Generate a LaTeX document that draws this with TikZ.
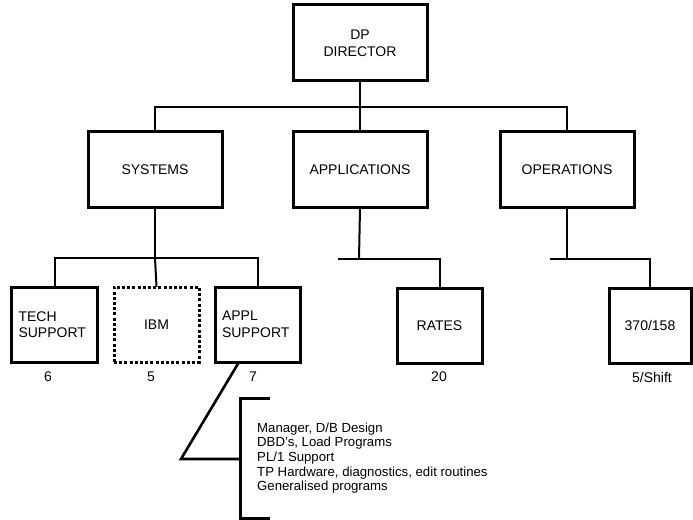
\documentclass[tikz,border=0pt]{standalone}
\usepackage{fontspec}
\setmainfont{Liberation Sans}
\begin{document}
\begin{tikzpicture}[x=1bp,y=-1bp,
  unit/.style={draw, line width=3bp, inner sep=0pt, outer sep=0pt,
    minimum width=#1, minimum height=75bp, align=center,
    font=\fontsize{14bp}{17bp}\selectfont},
  unit/.default=134bp,
  leftunit/.style={unit=85bp, text width=72bp, align=left,
    font=\fontsize{14bp}{16.5bp}\selectfont},
  dotunit/.style={unit=85bp, dash pattern=on 3bp off 2.2bp},
  link/.style={line width=2bp},
  heavy/.style={line width=2.6bp},
  count/.style={font=\fontsize{14bp}{16bp}\selectfont, inner sep=0pt}]
\useasboundingbox (0,0) rectangle (693,520);

% top level
\node[unit, minimum height=76bp] (dp) at (360,43) {DP\\DIRECTOR};

% departments
\node[unit, minimum height=76bp] (sys) at (155,170) {SYSTEMS};
\node[unit, minimum height=76bp] (app) at (360,170) {APPLICATIONS};
\node[unit, minimum height=76bp] (ops) at (567,170) {OPERATIONS};

% sections
\node[leftunit] (tech) at (54.5,324.5) {TECH\\SUPPORT};
\node[dotunit]  (ibm)  at (156.5,324.5) {IBM};
\node[leftunit] (appl) at (258,324.5) {APPL\\SUPPORT};
\node[unit=85bp] (rates) at (439.5,325.5) {RATES};
\node[unit=82bp] (cpu)   at (650,325.5) {370/158};

% staff counts
\node[count] (n6)  at (48,377)  {6};
\node[count] (n5)  at (151,377) {5};
\node[count] (n7)  at (253,377) {7};
\node[count] (n20) at (439,377) {20};
\node[count] (n5s) at (652,377) {5/Shift};

% bus junctions
\coordinate (b0) at (360,107);
\coordinate (b1) at (155,258);
\coordinate (b2) at (359,259);
\coordinate (s2) at (338,259);
\coordinate (b3) at (567,259);
\coordinate (s3) at (550,259);

% director to departments
\draw[link] (dp.south) -- (b0);
\draw[link] (sys.north) |- (ops.north |- b0) -- (ops.north);
\draw[link] (b0) -- (app.north);

% systems to its sections
\draw[link] (sys.south) -- (b1);
\draw[link] (tech.north) |- (appl.north |- b1) -- (appl.north);
\draw[link] (b1) -- (ibm.north);

% applications to rates
\draw[link] (app.south) -- (b2);
\draw[link] (s2) -| (rates.north);

% operations to the machine room
\draw[link] (ops.south) -- (b3);
\draw[link] (s3) -| (cpu.north);

% duties of applications support
\coordinate (ls) at (239,362);
\coordinate (lk) at (181,459);
\coordinate (lm) at (240,459);
\coordinate (bt) at (270,398);
\coordinate (bb) at (270,518);
\draw[heavy] (ls) -- (lk) -- (lm);
\draw[line width=3bp] (bt) -- (bt -| lm) -- (bb -| lm) -- (bb);
\node[anchor=west, align=left, inner sep=0pt,
  font=\fontsize{13.2bp}{14.7bp}\selectfont] (duties) at (257,458)
  {Manager, D/B Design\\DBD's, Load Programs\\PL/1 Support\\
   TP Hardware, diagnostics, edit routines\\Generalised programs};
\end{tikzpicture}
\end{document}
